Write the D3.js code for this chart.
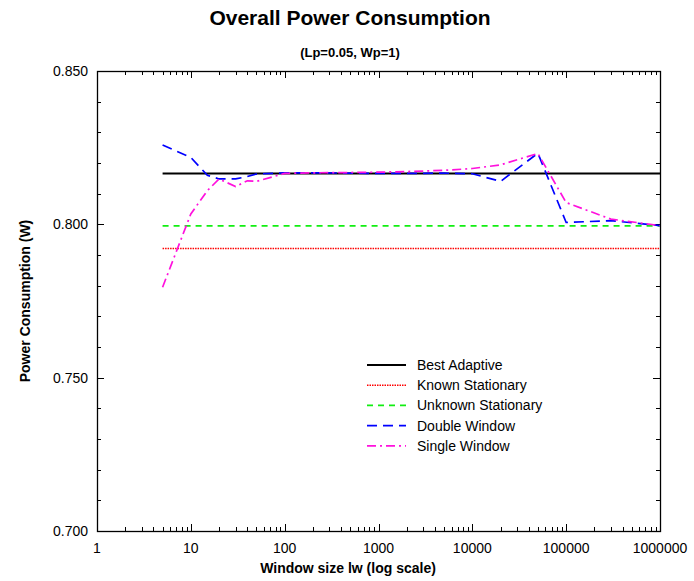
<!DOCTYPE html>
<html>
<head>
<meta charset="utf-8">
<script src="https://cdn.jsdelivr.net/npm/d3@7"></script>
<style>
  body { margin: 0; background: #fff; }
  text { font-family: "Liberation Sans", Arial, sans-serif; }
</style>
</head>
<body>
<script>
// Window sizes (x) and power values per series
var windowSizes = [5, 10, 15, 20, 30, 40, 50, 100, 200, 500, 1000, 2000, 5000, 10000, 20000, 50000, 100000, 300000, 1000000];
var doubleWindow = [0.8259, 0.8218, 0.8160, 0.8148, 0.8148, 0.8156, 0.8164, 0.8168, 0.8168, 0.8167, 0.8166, 0.8166, 0.8167, 0.8165, 0.8140, 0.8232, 0.8006, 0.8012, 0.7996];
var singleWindow = [0.7795, 0.8034, 0.8110, 0.8148, 0.8123, 0.8142, 0.8140, 0.8166, 0.8168, 0.8169, 0.8170, 0.8172, 0.8176, 0.8182, 0.8194, 0.8231, 0.8071, 0.8017, 0.7996];
var bestAdaptive = 0.8166;
var knownStationary = 0.7921;
var unknownStationary = 0.7995;
var xTickLabels = ["1", "10", "100", "1000", "10000", "100000", "1000000"];
var yTickLabels = ["0.700", "0.750", "0.800", "0.850"];

var width = 694, height = 581,
    margin = {left: 97, right: 34, top: 71, bottom: 50};

var svg = d3.select("body").append("svg")
    .attr("width", width)
    .attr("height", height);

var x = d3.scaleLog().domain([1, 1e6]).range([margin.left, width - margin.right]);
var y = d3.scaleLinear().domain([0.7, 0.85]).range([height - margin.bottom, margin.top]);

// minor/major ticks, pointing inward on all four sides
var xMajor = xTickLabels.map(Number);
var xMinor = [];
for (var d = 1; d < 1e6; d *= 10) {
  for (var k = 2; k < 10; k++) xMinor.push(d * k);
}
var yMajor = yTickLabels.map(Number);
var yMinor = d3.range(0, 16).map(function(i) { return 0.7 + i * 0.01; });

var g = svg.append("g").attr("stroke", "#000").attr("stroke-width", 1);
var x0 = x.range()[0], x1 = x.range()[1], y0 = y.range()[0], y1 = y.range()[1];

xMinor.forEach(function(v) {
  var px = Math.round(x(v)) + 0.5;
  g.append("line").attr("x1", px).attr("x2", px).attr("y1", y0).attr("y2", y0 - 4);
  g.append("line").attr("x1", px).attr("x2", px).attr("y1", y1).attr("y2", y1 + 4);
});
xMajor.forEach(function(v) {
  var px = Math.round(x(v)) + 0.5;
  g.append("line").attr("x1", px).attr("x2", px).attr("y1", y0).attr("y2", y0 - 7);
  g.append("line").attr("x1", px).attr("x2", px).attr("y1", y1).attr("y2", y1 + 7);
});
yMinor.forEach(function(v) {
  var py = Math.round(y(v)) + 0.5;
  var len = yMajor.some(function(m) { return Math.abs(m - v) < 1e-6; }) ? 7 : 4;
  g.append("line").attr("x1", x0).attr("x2", x0 + len).attr("y1", py).attr("y2", py);
  g.append("line").attr("x1", x1).attr("x2", x1 - len).attr("y1", py).attr("y2", py);
});

svg.append("rect")
    .attr("x", x0 + 0.5).attr("y", y1 + 0.5)
    .attr("width", x1 - x0).attr("height", y0 - y1)
    .attr("fill", "none").attr("stroke", "#000").attr("stroke-width", 1.3);

// tick labels
svg.selectAll(".xl").data(xTickLabels).enter().append("text")
    .attr("x", function(d) { return x(+d); })
    .attr("y", y0 + 22)
    .attr("text-anchor", "middle")
    .attr("font-size", 14)
    .text(function(d) { return d; });

svg.selectAll(".yl").data(yTickLabels).enter().append("text")
    .attr("x", x0 - 9)
    .attr("y", function(d) { return y(+d) + 5; })
    .attr("text-anchor", "end")
    .attr("font-size", 14)
    .text(function(d) { return d; });

// titles
svg.append("text").attr("x", 350).attr("y", 25).attr("text-anchor", "middle")
    .attr("font-size", 21).attr("font-weight", "bold").text("Overall Power Consumption");
svg.append("text").attr("x", 350).attr("y", 57).attr("text-anchor", "middle")
    .attr("font-size", 13).attr("font-weight", "bold").text("(Lp=0.05, Wp=1)");
svg.append("text").attr("x", 348).attr("y", 573).attr("text-anchor", "middle")
    .attr("font-size", 14).attr("font-weight", "bold").text("Window size lw (log scale)");
svg.append("text")
    .attr("transform", "translate(30," + ((y0 + y1) / 2) + ") rotate(-90)")
    .attr("text-anchor", "middle")
    .attr("font-size", 14).attr("font-weight", "bold").text("Power Consumption (W)");

// series
var series = [
  {name: "Best Adaptive", color: "#000", dash: null, width: 1.9,
   values: windowSizes.map(function() { return bestAdaptive; })},
  {name: "Known Stationary", color: "#ff0000", dash: "1.5,1", width: 1.5,
   values: windowSizes.map(function() { return knownStationary; })},
  {name: "Unknown Stationary", color: "#11ee11", dash: "6,5", width: 1.7,
   values: windowSizes.map(function() { return unknownStationary; })},
  {name: "Double Window", color: "#0000ff", dash: "10,6", width: 1.7, values: doubleWindow},
  {name: "Single Window", color: "#ff11dd", dash: "9,4,2,4", width: 1.7, values: singleWindow}
];

var line = d3.line()
    .x(function(d) { return x(d[0]); })
    .y(function(d) { return y(d[1]); });

series.forEach(function(s) {
  var pts = windowSizes.map(function(w, i) { return [w, s.values[i]]; });
  svg.append("path")
      .attr("d", line(pts))
      .attr("fill", "none")
      .attr("stroke", s.color)
      .attr("stroke-width", s.width)
      .attr("stroke-dasharray", s.dash);
});

// legend
var legend = svg.append("g");
series.forEach(function(s, i) {
  var ly = 365 + i * 20.2;
  legend.append("line")
      .attr("x1", 367).attr("x2", 406).attr("y1", ly).attr("y2", ly)
      .attr("stroke", s.color).attr("stroke-width", s.width)
      .attr("stroke-dasharray", s.dash);
  legend.append("text")
      .attr("x", 417).attr("y", ly + 5)
      .attr("font-size", 14)
      .text(s.name);
});
</script>
</body>
</html>
